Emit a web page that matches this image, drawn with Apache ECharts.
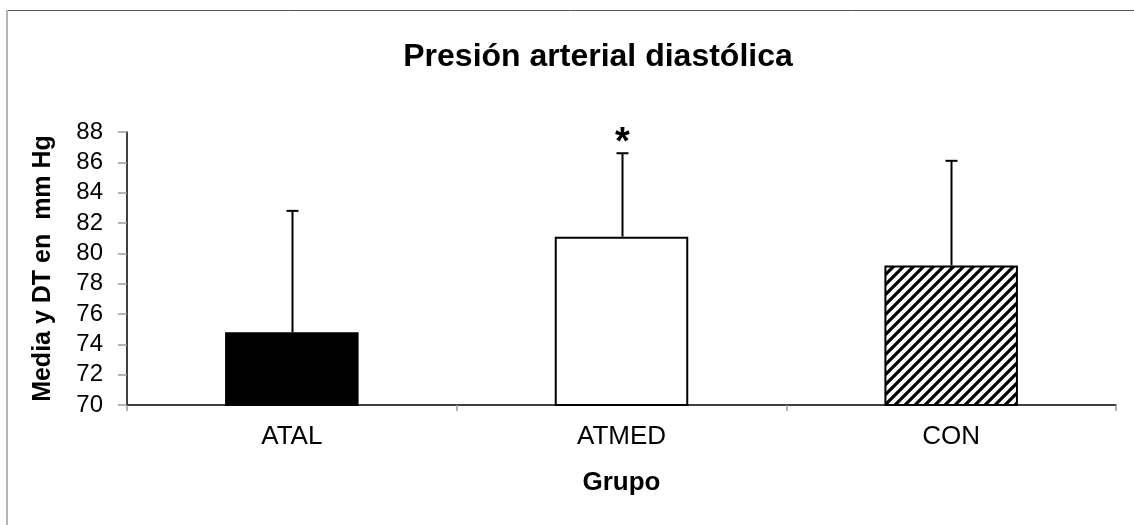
<!DOCTYPE html>
<html>
<head>
<meta charset="utf-8">
<script src="https://cdn.jsdelivr.net/npm/echarts@6/dist/echarts.min.js"></script>
<style>
html,body{margin:0;padding:0;background:#fff;}
#chart{width:1134px;height:525px;}
</style>
</head>
<body>
<div id="chart"></div>
<script>
// ---- data ----
var categories = ['ATAL', 'ATMED', 'CON'];
var means = [74.8, 81.1, 79.2];
var sds = [8.0, 5.5, 6.9];
var significance = ['', '*', ''];
var yMin = 70, yMax = 88, yInterval = 2;
var titleText = 'Presión arterial diastólica';
var yName = 'Media y DT en  mm Hg';
var xName = 'Grupo';

var FONT = 'Liberation Sans, Arial, sans-serif';

// ---- hatch pattern ----
function makeHatch() {
  var s = 10;
  var c = document.createElement('canvas');
  c.width = s; c.height = s;
  var ctx = c.getContext('2d');
  ctx.fillStyle = '#fff';
  ctx.fillRect(0, 0, s, s);
  ctx.strokeStyle = '#000';
  ctx.lineWidth = 3.2;
  ctx.beginPath();
  ctx.moveTo(-s, 2 * s); ctx.lineTo(2 * s, -s);
  ctx.moveTo(-2 * s, 2 * s); ctx.lineTo(s, -s);
  ctx.moveTo(0, 2 * s); ctx.lineTo(3 * s, -s);
  ctx.stroke();
  return c;
}

var barStyles = [
  { color: '#000', borderColor: '#000', borderWidth: 2 },
  { color: '#fff', borderColor: '#000', borderWidth: 2 },
  { color: { image: makeHatch(), repeat: 'repeat' }, borderColor: '#000', borderWidth: 2 }
];

var chart = echarts.init(document.getElementById('chart'), null, { renderer: 'canvas' });

var option = {
  backgroundColor: '#fff',
  animation: false,
  title: {
    text: titleText,
    left: 593,
    top: 36,
    textAlign: 'center',
    textStyle: { fontFamily: FONT, fontSize: 32, fontWeight: 'bold', color: '#000' }
  },
  graphic: [
    { type: 'line', shape: { x1: 7, y1: 10.5, x2: 1134, y2: 10.5 }, style: { stroke: '#555', lineWidth: 1 }, silent: true },
    { type: 'line', shape: { x1: 7, y1: 10, x2: 7, y2: 525 }, style: { stroke: '#b4b4b4', lineWidth: 2 }, silent: true }
  ],
  grid: { left: 127, right: 18, top: 132, bottom: 120, containLabel: false },
  xAxis: {
    type: 'category',
    data: categories,
    name: xName,
    nameLocation: 'middle',
    nameGap: 65,
    nameTextStyle: { fontFamily: FONT, fontSize: 26, fontWeight: 'bold', color: '#000' },
    axisLine: { lineStyle: { color: '#000', width: 1.5 } },
    axisTick: { show: true, length: 6, lineStyle: { color: '#999', width: 1.5 } },
    axisLabel: { margin: 19, fontFamily: FONT, fontSize: 26, color: '#000' }
  },
  yAxis: {
    type: 'value',
    min: yMin, max: yMax, interval: yInterval,
    name: yName,
    nameLocation: 'middle',
    nameRotate: 90,
    nameGap: 71,
    nameTextStyle: { fontFamily: FONT, fontSize: 25, fontWeight: 'bold', color: '#000' },
    splitLine: { show: false },
    axisLine: { show: true, lineStyle: { color: '#000', width: 1.5 } },
    axisTick: { show: true, length: 9, lineStyle: { color: '#999', width: 1.5 } },
    axisLabel: { margin: 24, fontFamily: FONT, fontSize: 24, color: '#000' }
  },
  series: [
    {
      type: 'bar',
      barWidth: '40.5%',
      data: means.map(function (v, i) { return { value: v, itemStyle: barStyles[i] }; }),
      z: 2
    },
    {
      type: 'custom',
      z: 3,
      data: means.map(function (v, i) { return [i, v, sds[i]]; }),
      renderItem: function (params, api) {
        var idx = api.value(0);
        var mean = api.value(1);
        var sd = api.value(2);
        var base = api.coord([idx, mean]);
        var top = api.coord([idx, mean + sd]);
        var x = Math.round(base[0]) + 0.5;
        var capHalf = 6;
        var children = [
          { type: 'line', shape: { x1: x, y1: base[1], x2: x, y2: top[1] }, style: { stroke: '#000', lineWidth: 2 } },
          { type: 'line', shape: { x1: x - capHalf, y1: top[1], x2: x + capHalf, y2: top[1] }, style: { stroke: '#000', lineWidth: 2 } }
        ];
        var sig = significance[params.dataIndex];
        if (sig) {
          children.push({
            type: 'text',
            style: {
              text: sig, x: x, y: top[1] + 9,
              align: 'center', verticalAlign: 'bottom',
              font: 'bold 38px Liberation Sans, Arial, sans-serif', fill: '#000'
            }
          });
        }
        return { type: 'group', children: children };
      }
    }
  ]
};
chart.setOption(option);
</script>
</body>
</html>
